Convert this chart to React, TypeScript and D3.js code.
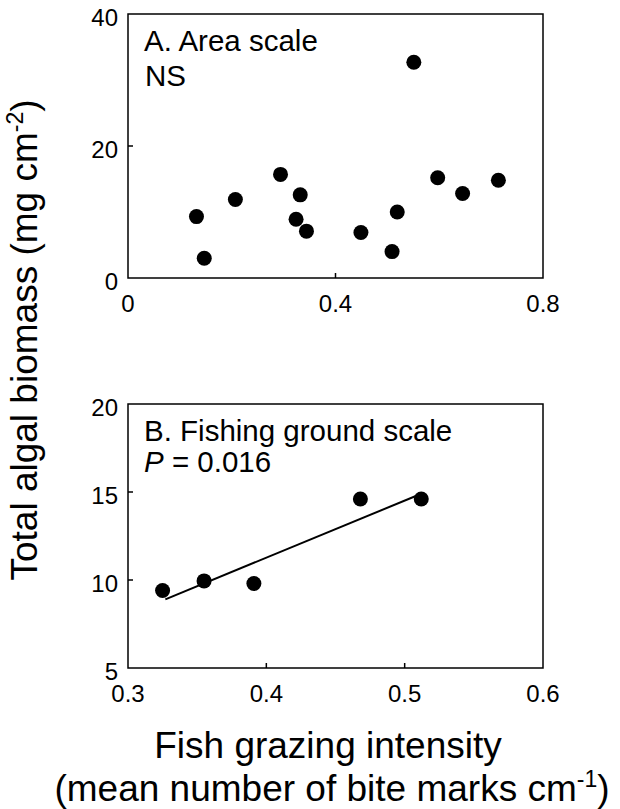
import React, { useEffect, useRef } from 'react';
import * as d3 from 'd3';

// Panel A: area scale
const areaX = [0.132, 0.147, 0.207, 0.294, 0.332, 0.324, 0.344, 0.449, 0.509, 0.519, 0.551, 0.597, 0.645, 0.714];
const areaY = [9.3, 3.0, 11.9, 15.7, 12.6, 8.9, 7.1, 6.9, 4.0, 10.0, 32.7, 15.2, 12.8, 14.8];
const areaXTicks = [0, 0.4, 0.8];
const areaYTicks = [0, 20, 40];

// Panel B: fishing ground scale
const groundX = [0.325, 0.355, 0.391, 0.468, 0.512];
const groundY = [9.4, 9.95, 9.8, 14.6, 14.6];
const groundXTicks = [0.3, 0.4, 0.5, 0.6];
const groundYTicks = [5, 10, 15, 20];
const fitX = [0.327, 0.512];
const fitY = [8.9, 14.9];

const FONT = "'Liberation Sans', Arial, Helvetica, sans-serif";

type PanelOpts = {
  top: number;
  xDomain: [number, number];
  yDomain: [number, number];
  xTicks: number[];
  yTicks: number[];
  xs: number[];
  ys: number[];
  title: string;
  fit?: { xs: number[]; ys: number[] };
};

function drawPanel(svg: d3.Selection<SVGSVGElement, unknown, null, undefined>, o: PanelOpts) {
  const left = 128, right = 543, h = 264;
  const x = d3.scaleLinear().domain(o.xDomain).range([left, right]);
  const y = d3.scaleLinear().domain(o.yDomain).range([o.top + h, o.top]);
  const g = svg.append('g');

  // frame
  g.append('rect')
    .attr('x', left).attr('y', o.top)
    .attr('width', right - left).attr('height', h)
    .attr('fill', 'none').attr('stroke', '#000').attr('stroke-width', 1.5);

  // inner ticks (pointing inwards)
  g.selectAll('.xt').data(o.xTicks.slice(1, -1)).join('line')
    .attr('x1', d => x(d)).attr('x2', d => x(d))
    .attr('y1', o.top + h).attr('y2', o.top + h - 5)
    .attr('stroke', '#000').attr('stroke-width', 1.5);
  g.selectAll('.yt').data(o.yTicks.slice(1, -1)).join('line')
    .attr('x1', left).attr('x2', left + 5)
    .attr('y1', d => y(d)).attr('y2', d => y(d))
    .attr('stroke', '#000').attr('stroke-width', 1.5);

  // tick labels
  g.selectAll('.xl').data(o.xTicks).join('text')
    .attr('x', d => x(d)).attr('y', o.top + h + 34)
    .attr('text-anchor', 'middle')
    .attr('font-size', 24).attr('font-family', FONT)
    .text(d => String(d));
  g.selectAll('.yl').data(o.yTicks).join('text')
    .attr('x', left - 10).attr('y', d => y(d) + 11.5)
    .attr('text-anchor', 'end')
    .attr('font-size', 24).attr('font-family', FONT)
    .text(d => String(d));

  // fit line
  if (o.fit) {
    const pts = o.fit.xs.map((v, i) => [v, o.fit!.ys[i]] as [number, number]);
    g.append('path')
      .attr('d', d3.line().x(d => x(d[0])).y(d => y(d[1]))(pts))
      .attr('fill', 'none').attr('stroke', '#000').attr('stroke-width', 2);
  }

  // points
  g.selectAll('.pt').data(o.xs.map((v, i) => [v, o.ys[i]])).join('circle')
    .attr('cx', d => x(d[0])).attr('cy', d => y(d[1]))
    .attr('r', 7.5).attr('fill', '#000');

  // panel title
  g.append('text')
    .attr('x', left + 16).attr('y', o.top + 37)
    .attr('font-size', 29.5).attr('font-family', FONT)
    .text(o.title);
  return g;
}

export default function App() {
  const svgRef = useRef<SVGSVGElement>(null);

  useEffect(() => {
    if (!svgRef.current) return;
    const svg = d3.select(svgRef.current);
    svg.selectAll('*').remove();

    drawPanel(svg, {
      top: 14, xDomain: [0, 0.8], yDomain: [0, 40],
      xTicks: areaXTicks, yTicks: areaYTicks,
      xs: areaX, ys: areaY, title: 'A. Area scale',
    }).append('text')
      .attr('x', 145).attr('y', 86)
      .attr('font-size', 29.5).attr('font-family', FONT)
      .text('NS');

    const b = drawPanel(svg, {
      top: 404, xDomain: [0.3, 0.6], yDomain: [5, 20],
      xTicks: groundXTicks, yTicks: groundYTicks,
      xs: groundX, ys: groundY, title: 'B. Fishing ground scale',
      fit: { xs: fitX, ys: fitY },
    });
    const p = b.append('text')
      .attr('x', 144).attr('y', 472)
      .attr('font-size', 29.5).attr('font-family', FONT);
    p.append('tspan').attr('font-style', 'italic').text('P');
    p.append('tspan').text(' = 0.016');

    // y axis label
    const yl = svg.append('text')
      .attr('transform', 'translate(37,340) rotate(-90)')
      .attr('text-anchor', 'middle')
      .attr('font-size', 37).attr('font-family', FONT);
    yl.append('tspan').text('Total algal biomass (mg cm');
    yl.append('tspan').attr('font-size', 23).attr('dy', -14).text('-2');
    yl.append('tspan').attr('dy', 14).text(')');

    // x axis label
    svg.append('text')
      .attr('x', 328).attr('y', 758)
      .attr('text-anchor', 'middle')
      .attr('font-size', 37).attr('font-family', FONT)
      .text('Fish grazing intensity');
    const xl2 = svg.append('text')
      .attr('x', 332).attr('y', 801)
      .attr('text-anchor', 'middle')
      .attr('font-size', 37).attr('font-family', FONT);
    xl2.append('tspan').text('(mean number of bite marks cm');
    xl2.append('tspan').attr('font-size', 23).attr('dy', -14).text('-1');
    xl2.append('tspan').attr('dy', 14).text(')');
  }, []);

  return (
    <svg
      ref={svgRef}
      width={620}
      height={809}
      style={{ position: 'absolute', left: 0, top: 0, background: '#fff' }}
    />
  );
}
